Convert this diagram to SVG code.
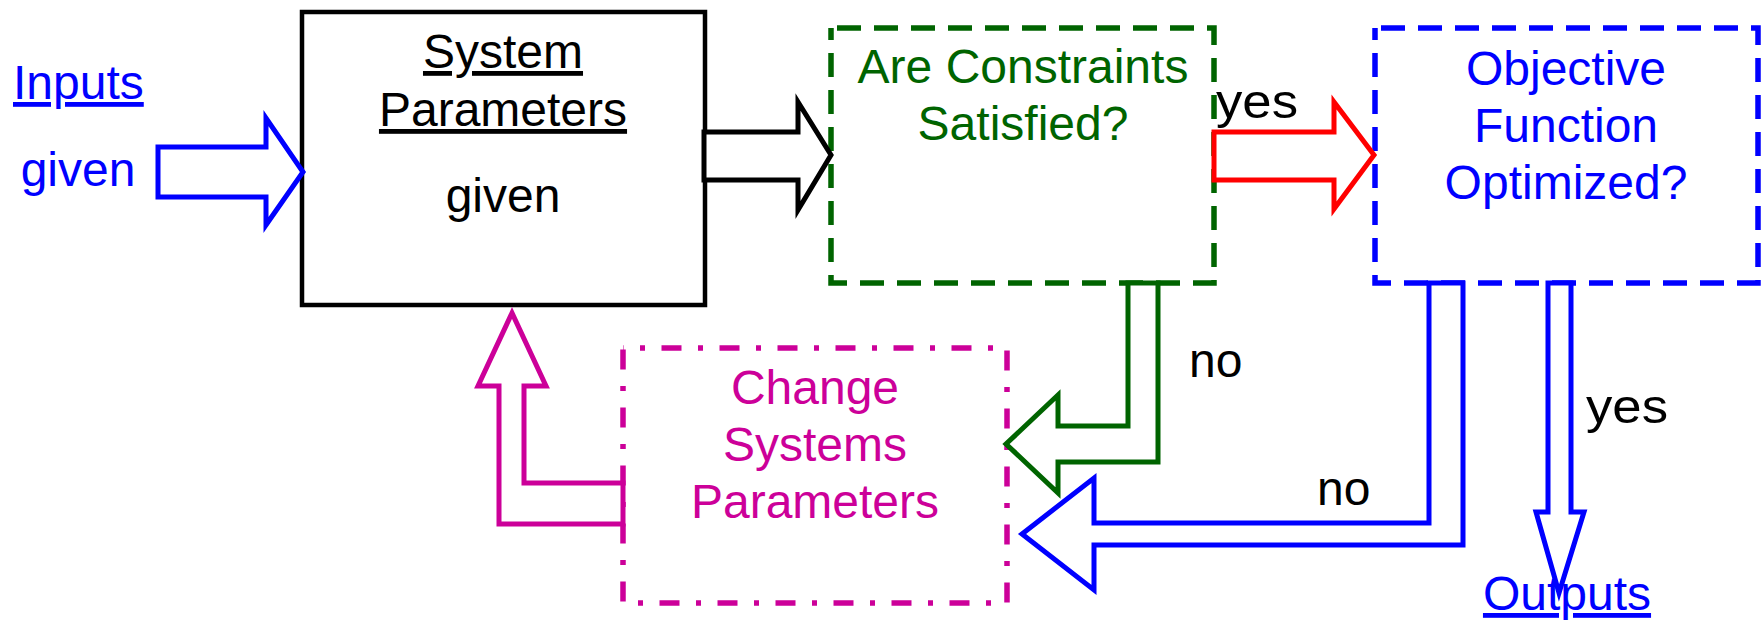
<svg xmlns="http://www.w3.org/2000/svg" width="1764" height="620" viewBox="0 0 1764 620">
<style>
text{font-family:"Liberation Sans",Arial,sans-serif;font-size:48px}
.c{text-anchor:middle}
.u{text-decoration:underline}
.box{fill:none}
.arr{fill:#fff;stroke-width:5;stroke-linejoin:miter}
</style>
<rect width="1764" height="620" fill="#fff"/>
<g id="inputs">
<text x="13" y="99" fill="#00f" class="u">Inputs</text>
<text x="78" y="186" fill="#00f" class="c">given</text>
</g>
<g id="system-parameters">
<rect x="302" y="12" width="403" height="293" class="box" stroke="#000" stroke-width="4.5"/>
<text x="503" y="68" class="c u" fill="#000">System</text>
<text x="503" y="126" class="c u" fill="#000">Parameters</text>
<text x="503" y="212" class="c" fill="#000">given</text>
</g>
<g id="constraints">
<rect x="831" y="28" width="383" height="255" class="box" stroke="#006400" stroke-width="5.5" stroke-dasharray="24 13" stroke-dashoffset="-6"/>
<text x="1023" y="83" class="c" fill="#006400">Are Constraints</text>
<text x="1023" y="140" class="c" fill="#006400">Satisfied?</text>
</g>
<g id="objective">
<rect x="1375" y="28" width="383" height="255" class="box" stroke="#00f" stroke-width="5.5" stroke-dasharray="24 13" stroke-dashoffset="-6"/>
<text x="1566" y="85" class="c" fill="#00f">Objective</text>
<text x="1566" y="142" class="c" fill="#00f">Function</text>
<text x="1566" y="199" class="c" fill="#00f">Optimized?</text>
</g>
<g id="change">
<rect x="623" y="348" width="384" height="255" class="box" stroke="#c09" stroke-width="5.5" stroke-dasharray="20 16.5 5 16.5" stroke-dashoffset="19.5"/>
<text x="815" y="404" class="c" fill="#c09">Change</text>
<text x="815" y="461" class="c" fill="#c09">Systems</text>
<text x="815" y="518" class="c" fill="#c09">Parameters</text>
</g>
<g id="outputs">
<text x="1567" y="610" class="c u" fill="#00f">Outputs</text>
</g>
<g id="connectors">
<path class="arr" stroke="#00f" d="M158,147 L266,147 L266,118 L303,172 L266,225 L266,197 L158,197 Z"/>
<path class="arr" stroke="#000" d="M704,132 L798,132 L798,102 L831,155 L798,210 L798,180 L704,180 Z"/>
<path class="arr" stroke="#f00" d="M1214,132 L1334,132 L1334,102 L1374,155 L1334,209 L1334,180 L1214,180 Z"/>
<path class="arr" stroke="#006400" d="M1128,283 L1128,426 L1058,426 L1058,395 L1006,444 L1058,493 L1058,462 L1158,462 L1158,283 Z"/>
<path class="arr" stroke="#00f" d="M1429,283 L1429,523 L1094,523 L1094,478 L1022,534 L1094,590 L1094,545 L1463,545 L1463,283 Z"/>
<path class="arr" stroke="#00f" d="M1548,283 L1548,512 L1536,512 L1559,593 L1584,512 L1571,512 L1571,283 Z"/>
<path class="arr" stroke="#c09" d="M623,483 L524,483 L524,386 L546,386 L512,313 L478,386 L499,386 L499,524 L623,524 Z"/>
<text x="1216" y="118" textLength="82" lengthAdjust="spacingAndGlyphs" fill="#000">yes</text>
<text x="1189" y="377" fill="#000">no</text>
<text x="1317" y="505" fill="#000">no</text>
<text x="1586" y="423" textLength="82" lengthAdjust="spacingAndGlyphs" fill="#000">yes</text>
</g>
</svg>
